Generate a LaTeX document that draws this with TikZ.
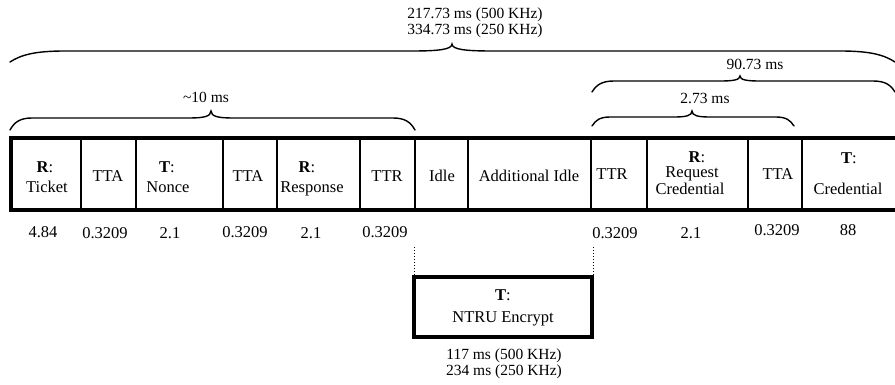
\documentclass[tikz,border=0pt]{standalone}
\usepackage{fontspec}
\setmainfont{Liberation Serif}
\begin{document}
\begin{tikzpicture}[x=1pt,y=-1pt,
  txt/.style={anchor=base,inner sep=0pt,outer sep=0pt,font=\fontsize{16.5}{18}\selectfont},
  lbl/.style={anchor=base,inner sep=0pt,outer sep=0pt,font=\fontsize{15.5}{17}\selectfont},
  cellbox/.style={draw,line width=1.8pt,inner sep=0pt,outer sep=0pt,minimum height=72pt},
  frame/.style={line width=4.2pt},
  bracel/.style={line width=1.4pt,line cap=round},
  dots/.style={line width=1pt,dotted}]
\useasboundingbox (0,0) rectangle (895,385);
% brace macro: x1, x2, xtip, yend, yline, ytip, hook, tipw
\newcommand\mybrace[8]{%
  \draw[bracel] (#1,#4) .. controls (#1+0.2*#7,#5+0.35*#4-0.35*#5) and (#1+0.45*#7,#5) .. (#1+#7,#5)
    -- (#3-#8,#5) .. controls (#3-0.35*#8,#5) and (#3,#5-0.2*#5+0.2*#6) .. (#3,#6)
    .. controls (#3,#5-0.2*#5+0.2*#6) and (#3+0.35*#8,#5) .. (#3+#8,#5)
    -- (#2-#7,#5) .. controls (#2-0.45*#7,#5) and (#2-0.2*#7,#5+0.35*#4-0.35*#5) .. (#2,#4);}
% cells
\node[cellbox,minimum width=70pt]  (c1)  at (46,174)   {};
\node[cellbox,minimum width=55pt]  (c2)  at (108.5,174) {};
\node[cellbox,minimum width=87pt]  (c3)  at (179.5,174) {};
\node[cellbox,minimum width=54pt]  (c4)  at (250,174)  {};
\node[cellbox,minimum width=83pt]  (c5)  at (318.5,174) {};
\node[cellbox,minimum width=55pt]  (c6)  at (387.5,174) {};
\node[cellbox,minimum width=53pt]  (c7)  at (441.5,174) {};
\node[cellbox,minimum width=123pt] (c8)  at (529.5,174) {};
\node[cellbox,minimum width=56pt]  (c9)  at (619,174)  {};
\node[cellbox,minimum width=101pt] (c10) at (697.5,174) {};
\node[cellbox,minimum width=54pt]  (c11) at (775,174)  {};
\node[cellbox,minimum width=95pt]  (c12) at (849.5,174) {};
\draw[frame] (897,138) -- (11,138) -- (11,210) -- (897,210);
% cell texts
\node[txt] (t1a) at (45,173) {\textbf{R}:};
\node[txt] (t1b) at (47,193) {Ticket};
\node[txt] (t2) at (108,182) {TTA};
\node[txt] (t3a) at (167,173) {\textbf{T}:};
\node[txt] (t3b) at (168,193) {Nonce};
\node[txt] (t4) at (248,182) {TTA};
\node[txt] (t5a) at (307,173) {\textbf{R}:};
\node[txt] (t5b) at (312,193) {Response};
\node[txt] (t6) at (387,182) {TTR};
\node[txt] (t7) at (442,182) {Idle};
\node[txt] (t8) at (529,182) {Additional Idle};
\node[txt] (t9) at (612,180) {TTR};
\node[txt] (t10a) at (697,163) {\textbf{R}:};
\node[txt] (t10b) at (692,178) {Request};
\node[txt] (t10c) at (690,195) {Credential};
\node[txt] (t11) at (778,180) {TTA};
\node[txt] (t12a) at (849,164) {\textbf{T}:};
\node[txt] (t12b) at (848,195) {Credential};
% numbers
\node[txt] (n1) at (43,237) {4.84};
\node[txt] (n2) at (105,238) {0.3209};
\node[txt] (n3) at (170,238) {2.1};
\node[txt] (n4) at (245,237) {0.3209};
\node[txt] (n5) at (311,238) {2.1};
\node[txt] (n6) at (385,237) {0.3209};
\node[txt] (n9) at (615,239) {0.3209};
\node[txt] (n10) at (691,239) {2.1};
\node[txt] (n11) at (777,236) {0.3209};
\node[txt] (n12) at (848,236) {88};
% braces and labels
\mybrace{10}{895}{452}{62}{51}{44}{55}{40}
\node[lbl] (top1) at (475,19) {217.73 ms (500 KHz)};
\node[lbl] (top2) at (475,35) {334.73 ms (250 KHz)};
\mybrace{10}{415}{211}{130}{118}{111}{22}{22}
\node[lbl] (l10) at (206,103) {\textasciitilde10 ms};
\mybrace{592}{895}{740}{92}{81}{76}{22}{20}
\node[lbl] (l90) at (755,70) {90.73 ms};
\mybrace{592}{794}{692}{126}{117}{111}{18}{18}
\node[lbl] (l2) at (705,104) {2.73 ms};
% NTRU box
\node[draw,line width=4pt,minimum width=178pt,minimum height=60pt,inner sep=0pt] (enc) at (503,307) {};
\node[txt] (enca) at (503,300) {\textbf{T}:};
\node[txt] (encb) at (503,322) {NTRU Encrypt};
\coordinate (d1) at (414,247);
\coordinate (d2) at (593,247);
\draw[dots] (d1) -- (d1 |- enc.north);
\draw[dots] (d2) -- ([yshift=-12pt]d2 |- enc.north);
\node[lbl] (b1) at (504,359) {117 ms (500 KHz)};
\node[lbl] (b2) at (504,375) {234 ms (250 KHz)};
\end{tikzpicture}
\end{document}
